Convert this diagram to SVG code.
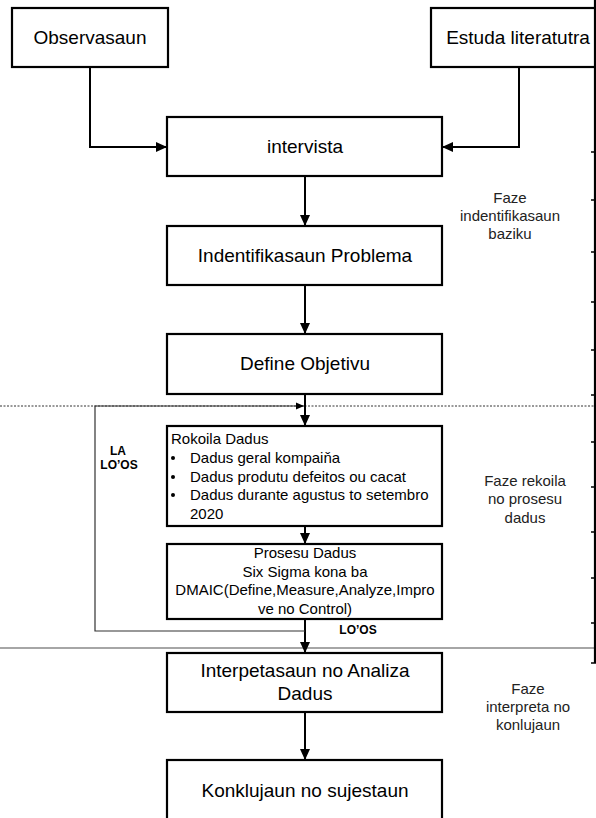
<svg xmlns="http://www.w3.org/2000/svg" width="596" height="818" viewBox="0 0 596 818">
<defs>
<style>
.box{fill:#fff;stroke:#000;stroke-width:2.2}
.lbl{font-family:"Liberation Sans",Arial,sans-serif;font-size:19px;fill:#000;text-anchor:middle}
.sm{font-family:"Liberation Sans",Arial,sans-serif;font-size:15px;fill:#000}
.faze{font-family:"Liberation Sans",Arial,sans-serif;font-size:15px;fill:#222;text-anchor:middle}
.bold{font-family:"Liberation Sans",Arial,sans-serif;font-size:12px;font-weight:bold;fill:#000;text-anchor:middle}
.conn{fill:none;stroke:#000;stroke-width:2}
.thin{fill:none;stroke:#333;stroke-width:1.2}
.tick{stroke:#000;stroke-width:1.5}
</style>
<marker id="arr" markerUnits="userSpaceOnUse" markerWidth="12" markerHeight="10" refX="11" refY="5" orient="auto">
<path d="M0,0 L11,5 L0,10 Z" fill="#000"/>
</marker>
<marker id="arrs" markerUnits="userSpaceOnUse" markerWidth="9" markerHeight="8" refX="8" refY="4" orient="auto">
<path d="M0,0.5 L8,4 L0,7.5 Z" fill="#000"/>
</marker>
</defs>

<g id="separators">
<path d="M0,406 H595" stroke="#333" stroke-width="1" stroke-dasharray="2,1.5" fill="none"/>
<path d="M0,648 H595" stroke="#888" stroke-width="1.5" fill="none"/>
<path d="M595,0 V663" stroke="#000" stroke-width="2.2" fill="none"/>
<path class="tick" d="M591,152 H595 M591,200 H595 M591,252 H595 M591,302 H595 M591,350 H595 M591,395 H595 M591,442 H595 M591,487 H595 M591,532 H595 M591,578 H595 M591,623 H595 M591,663 H596"/>
</g>

<g id="connectors">
<path class="conn" d="M90,67 V147 H167" marker-end="url(#arr)"/>
<path class="conn" d="M519,67 V147 H442" marker-end="url(#arr)"/>
<path class="conn" d="M305,176 V226" marker-end="url(#arr)"/>
<path class="conn" d="M305,285 V334" marker-end="url(#arr)"/>
<path class="conn" d="M305,394 V426" marker-end="url(#arr)"/>
<path class="conn" d="M305,526 V544" marker-end="url(#arr)"/>
<path class="conn" d="M305,619 V653" marker-end="url(#arr)"/>
<path class="conn" d="M305,712 V760" marker-end="url(#arr)"/>
<path class="thin" d="M305,631 H95 V406 H304" marker-end="url(#arrs)"/>
<text class="bold" x="118" y="455">LA</text>
<text class="bold" x="119" y="469">LO’OS</text>
<text class="bold" x="358" y="634">LO’OS</text>
</g>

<g id="observasaun">
<rect class="box" x="12" y="8" width="156" height="59"/>
<text class="lbl" x="90" y="44">Observasaun</text>
</g>

<g id="estuda">
<rect class="box" x="431" y="8" width="164" height="59"/>
<text class="lbl" x="518" y="44">Estuda literatutra</text>
</g>

<g id="intervista">
<rect class="box" x="167" y="117" width="275" height="59"/>
<text class="lbl" x="305" y="153">intervista</text>
</g>

<g id="indentifikasaun">
<rect class="box" x="167" y="226" width="275" height="59"/>
<text class="lbl" x="305" y="262">Indentifikasaun Problema</text>
</g>

<g id="define">
<rect class="box" x="167" y="334" width="275" height="60"/>
<text class="lbl" x="305" y="370">Define Objetivu</text>
</g>

<g id="rokoila">
<rect class="box" x="167" y="426" width="275" height="100"/>
<text class="sm" x="171" y="444">Rokoila Dadus</text>
<circle cx="173" cy="458" r="2"/>
<text class="sm" x="190" y="463">Dadus geral kompaiňa</text>
<circle cx="173" cy="477" r="2"/>
<text class="sm" x="190" y="481.5">Dadus produtu defeitos ou cacat</text>
<circle cx="173" cy="495" r="2"/>
<text class="sm" x="190" y="500">Dadus durante agustus to setembro</text>
<text class="sm" x="190" y="518.5">2020</text>
</g>

<g id="prosesu">
<rect class="box" x="167" y="544" width="275" height="75"/>
<text class="sm" x="305" y="558" text-anchor="middle">Prosesu Dadus</text>
<text class="sm" x="305" y="576.5" text-anchor="middle">Six Sigma kona ba</text>
<text class="sm" x="305" y="595" text-anchor="middle">DMAIC(Define,Measure,Analyze,Impro</text>
<text class="sm" x="305" y="613.5" text-anchor="middle">ve no Control)</text>
</g>

<g id="interpetasaun">
<rect class="box" x="167" y="653" width="275" height="59"/>
<text class="lbl" x="305" y="677">Interpetasaun no Analiza</text>
<text class="lbl" x="305" y="700">Dadus</text>
</g>

<g id="konklujaun">
<rect class="box" x="167" y="760" width="275" height="80"/>
<text class="lbl" x="305" y="797">Konklujaun no sujestaun</text>
</g>

<g id="faze-labels">
<text class="faze" x="510" y="202.5">Faze</text>
<text class="faze" x="510" y="220.5">indentifikasaun</text>
<text class="faze" x="510" y="238.5">baziku</text>
<text class="faze" x="525" y="485.5">Faze rekoila</text>
<text class="faze" x="525" y="504">no prosesu</text>
<text class="faze" x="525" y="522.5">dadus</text>
<text class="faze" x="528" y="694">Faze</text>
<text class="faze" x="528" y="712">interpreta no</text>
<text class="faze" x="528" y="730">konlujaun</text>
</g>
</svg>
